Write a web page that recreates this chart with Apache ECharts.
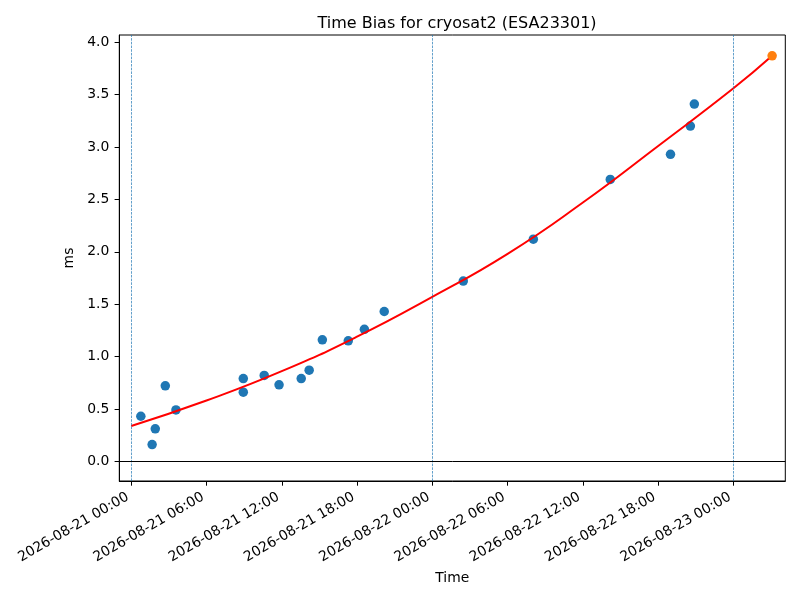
<!DOCTYPE html>
<html>
<head>
<meta charset="utf-8">
<script src="https://cdn.jsdelivr.net/npm/echarts@6/dist/echarts.min.js"></script>
<style>
html, body { margin: 0; padding: 0; background: #fff; }
#chartmain { width: 800px; height: 600px; }
</style>
</head>
<body>
<div id="chartmain"></div>
<script>
// measured bias points
var obsTimes = [
    '2026-08-21 00:46', '2026-08-21 01:40', '2026-08-21 01:55', '2026-08-21 02:43',
    '2026-08-21 03:34', '2026-08-21 08:56', '2026-08-21 08:56', '2026-08-21 10:36',
    '2026-08-21 11:47', '2026-08-21 13:33', '2026-08-21 14:11', '2026-08-21 15:14',
    '2026-08-21 17:18', '2026-08-21 18:35', '2026-08-21 20:10', '2026-08-22 02:28',
    '2026-08-22 08:03', '2026-08-22 14:11', '2026-08-22 18:59', '2026-08-22 20:34',
    '2026-08-22 20:53'
];
var obsValues = [
    0.43, 0.16, 0.31, 0.72,
    0.49, 0.79, 0.66, 0.82,
    0.73, 0.79, 0.87, 1.16,
    1.15, 1.26, 1.43, 1.72,
    2.12, 2.69, 2.93, 3.20,
    3.41
];
// fitted curve
var fitTimes = [
    '2026-08-21 00:00', '2026-08-21 06:00', '2026-08-21 12:00', '2026-08-21 18:00',
    '2026-08-22 00:00', '2026-08-22 06:00', '2026-08-22 12:00', '2026-08-22 18:00',
    '2026-08-23 00:00', '2026-08-23 03:05'
];
var fitValues = [0.337, 0.58, 0.86, 1.19, 1.57, 1.98, 2.47, 3.01, 3.56, 3.87];
// predicted point
var predTime = '2026-08-23 03:05';
var predValue = 3.87;

var dayLines = ['2026-08-21 00:00', '2026-08-22 00:00', '2026-08-23 00:00'];
var xTickLabels = [
    '2026-08-21 00:00', '2026-08-21 06:00', '2026-08-21 12:00', '2026-08-21 18:00',
    '2026-08-22 00:00', '2026-08-22 06:00', '2026-08-22 12:00', '2026-08-22 18:00',
    '2026-08-23 00:00'
];
var yTicks = [0, 0.5, 1, 1.5, 2, 2.5, 3, 3.5, 4];
var xMin = '2026-08-20 23:03';
var xMax = '2026-08-23 04:08';
var yMin = -0.188;
var yMax = 4.069;

(function() {
    var t = function(s) { return +echarts.time.parse(s); };
    var fmt = function(v) { return echarts.time.format(v, '{yyyy}-{MM}-{dd} {HH}:{mm}', false); };

    var obsData = [];
    for (var i = 0; i < obsTimes.length; i++) {
        obsData.push([t(obsTimes[i]), obsValues[i]]);
    }
    var fitData = [];
    for (var j = 0; j < fitTimes.length; j++) {
        fitData.push([t(fitTimes[j]), fitValues[j]]);
    }
    var xTickValues = xTickLabels.map(t);
    var font = 'DejaVu Sans';

    var option = {
        animation: false,
        backgroundColor: '#fff',
        title: {
            text: 'Time Bias for cryosat2 (ESA23301)',
            left: 452, top: 11, textAlign: 'center',
            textStyle: { fontFamily: font, fontSize: 16, fontWeight: 'normal', color: '#000' }
        },
        grid: {
            left: 119.3, right: 14.7, top: 35, bottom: 119,
            show: true, borderColor: '#000', borderWidth: 1
        },
        xAxis: {
            // time kept as epoch ms on a linear axis so ticks can be placed exactly
            type: 'value',
            scale: true,
            min: t(xMin), max: t(xMax),
            name: 'Time', nameLocation: 'middle', nameGap: 90,
            nameTextStyle: { fontFamily: font, fontSize: 13.9, color: '#000' },
            axisLine: { show: true, onZero: false, lineStyle: { color: '#000', width: 1 } },
            axisTick: { show: true, length: 4.7, customValues: xTickValues, lineStyle: { color: '#000', width: 1 } },
            axisLabel: {
                customValues: xTickValues, rotate: 30, margin: 13,
                padding: [0, 4, 0, 0],
                fontFamily: font, fontSize: 13.9, color: '#000',
                formatter: function(v) { return fmt(v); }
            },
            splitLine: { show: false }
        },
        yAxis: {
            type: 'value',
            min: yMin, max: yMax,
            name: 'ms', nameLocation: 'middle', nameGap: 39,
            nameTextStyle: { fontFamily: font, fontSize: 13.9, color: '#000' },
            axisLine: { show: true, onZero: false, lineStyle: { color: '#000', width: 1 } },
            axisTick: { show: true, length: 4.7, customValues: yTicks, lineStyle: { color: '#000', width: 1 } },
            axisLabel: {
                customValues: yTicks, margin: 10,
                fontFamily: font, fontSize: 13.9, color: '#000',
                formatter: function(v) { return v.toFixed(1); }
            },
            splitLine: { show: false }
        },
        series: [
            {
                type: 'line',
                data: [],
                silent: true,
                markLine: {
                    symbol: 'none', silent: true, label: { show: false },
                    lineStyle: { color: '#1f77b4', width: 0.7, type: [2.6, 1.1] },
                    data: dayLines.map(function(d) { return { xAxis: t(d) }; })
                }
            },
            {
                type: 'line',
                data: [],
                silent: true,
                markLine: {
                    symbol: 'none', silent: true, label: { show: false },
                    lineStyle: { color: '#000', width: 1, type: 'solid' },
                    data: [{ yAxis: 0 }]
                }
            },
            {
                type: 'scatter',
                data: obsData,
                symbolSize: 9.5,
                itemStyle: { color: '#1f77b4', opacity: 1 },
                z: 3
            },
            {
                type: 'line',
                data: fitData,
                smooth: true,
                showSymbol: false,
                lineStyle: { color: 'red', width: 2 },
                z: 4
            },
            {
                type: 'scatter',
                data: [[t(predTime), predValue]],
                symbolSize: 9.5,
                itemStyle: { color: '#ff7f0e', opacity: 1 },
                z: 5
            }
        ]
    };
    var myChart = echarts.init(document.getElementById('chartmain'));
    myChart.setOption(option);
})();
</script>
</body>
</html>
